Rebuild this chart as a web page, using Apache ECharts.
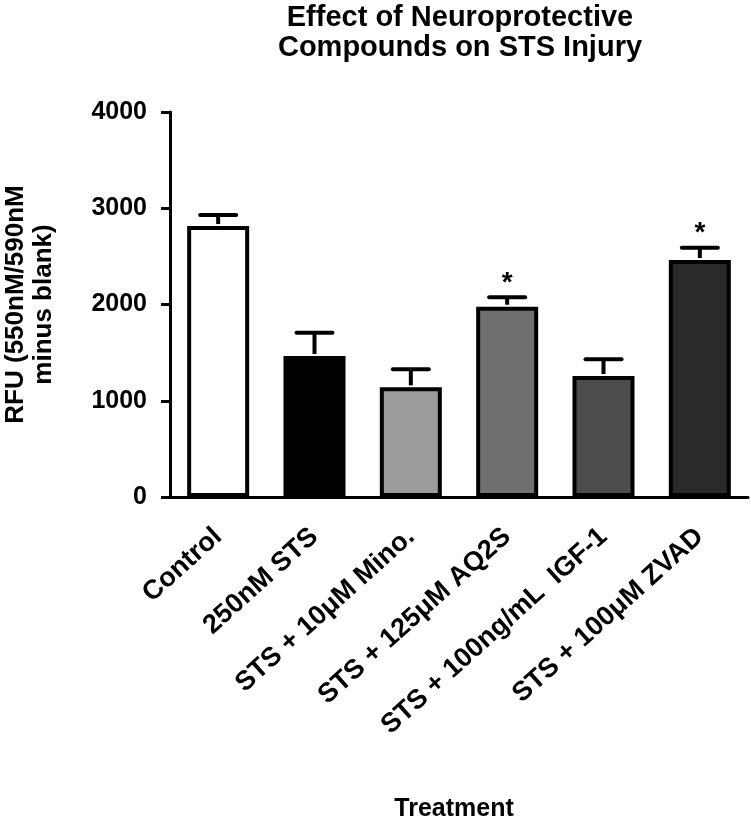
<!DOCTYPE html>
<html>
<head>
<meta charset="utf-8">
<script src="https://cdn.jsdelivr.net/npm/echarts@6/dist/echarts.min.js"></script>
<style>
  html, body { margin: 0; padding: 0; background: #fff; }
  #chart { width: 751px; height: 826px; }
</style>
</head>
<body>
<div id="chart"></div>
<script>
// data
const categories = ['Control', '250nM STS', 'STS + 10\u03bcM Mino.', 'STS + 125\u03bcM AQ2S', 'STS + 100ng/mL  IGF-1', 'STS + 100\u03bcM ZVAD']
const means = [2815, 1465, 1140, 1977, 1257, 2462]
const errors = [115, 242, 187, 98, 173, 128]
const marks = ['', '', '', '*', '', '*']
const barColors = ['#ffffff', '#000000', '#9b9b9b', '#707070', '#4c4c4c', '#2a2a2a']
const yTicks = [0, 1000, 2000, 3000, 4000]

const font = 'Arial, "Liberation Sans", Helvetica, sans-serif'

let myChart = echarts.init(document.getElementById('chart'))
myChart.setOption({
  animation: false,
  graphic: [
    {
      type: 'text',
      x: 460,
      y: 3,
      style: {
        text: 'Effect of Neuroprotective\nCompounds on STS Injury',
        align: 'center',
        verticalAlign: 'top',
        font: 'bold 29px ' + font,
        lineHeight: 30,
        fill: '#000'
      }
    }
  ],
  grid: {
    left: 170,
    right: 3,
    top: 112,
    bottom: 329,
    outerBoundsMode: 'none'
  },
  xAxis: {
    type: 'category',
    data: categories,
    name: 'Treatment',
    nameLocation: 'middle',
    nameGap: 300,
    nameTextStyle: { fontFamily: font, fontWeight: 'bold', fontSize: 25, color: '#000', padding: [0, 10, 0, 0] },
    axisLine: { lineStyle: { color: '#000', width: 3 } },
    axisTick: { alignWithLabel: true, length: 10, lineStyle: { color: '#000', width: 3 } },
    axisLabel: {
      rotate: 42,
      interval: 0,
      margin: 36,
      padding: [0, 0, 0, 0],
      fontFamily: font,
      fontWeight: 'bold',
      fontSize: 27,
      color: '#000'
    }
  },
  yAxis: {
    type: 'value',
    min: yTicks[0],
    max: yTicks[yTicks.length - 1],
    interval: 1000,
    name: 'RFU (550nM/590nM\nminus blank)',
    nameLocation: 'middle',
    nameGap: 112,
    nameTextStyle: { fontFamily: font, fontWeight: 'bold', fontSize: 26, lineHeight: 28, color: '#000' },
    splitLine: { show: false },
    axisLine: { show: true, lineStyle: { color: '#000', width: 3 } },
    axisTick: { show: true, length: 9, lineStyle: { color: '#000', width: 3 } },
    axisLabel: {
      margin: 23,
      formatter: function (v) { return String(v) },
      fontFamily: font,
      fontWeight: 'bold',
      fontSize: 25,
      color: '#000'
    }
  },
  series: [
    {
      type: 'bar',
      barWidth: 62,
      data: means.map(function (v, i) {
        return {
          value: v,
          itemStyle: { color: barColors[i], borderColor: '#000', borderWidth: 4 }
        }
      })
    },
    {
      type: 'custom',
      data: means.map(function (v, i) { return [i, v, v + errors[i]] }),
      renderItem: function (params, api) {
        let top = api.coord([api.value(0), api.value(2)])
        let base = api.coord([api.value(0), api.value(1)])
        let children = [
          {
            type: 'line',
            shape: { x1: top[0], y1: base[1] - 2, x2: top[0], y2: top[1] },
            style: { stroke: '#000', lineWidth: 4 }
          },
          {
            type: 'line',
            shape: { x1: top[0] - 18, y1: top[1], x2: top[0] + 18, y2: top[1] },
            style: { stroke: '#000', lineWidth: 4, lineCap: 'round' }
          }
        ]
        if (marks[params.dataIndex]) {
          children.push({
            type: 'text',
            x: top[0],
            y: top[1] - 14,
            style: {
              text: marks[params.dataIndex],
              font: 'bold 28px ' + font,
              align: 'center',
              verticalAlign: 'middle',
              fill: '#000'
            }
          })
        }
        return { type: 'group', children: children }
      },
      z: 3
    }
  ]
})
</script>
</body>
</html>
